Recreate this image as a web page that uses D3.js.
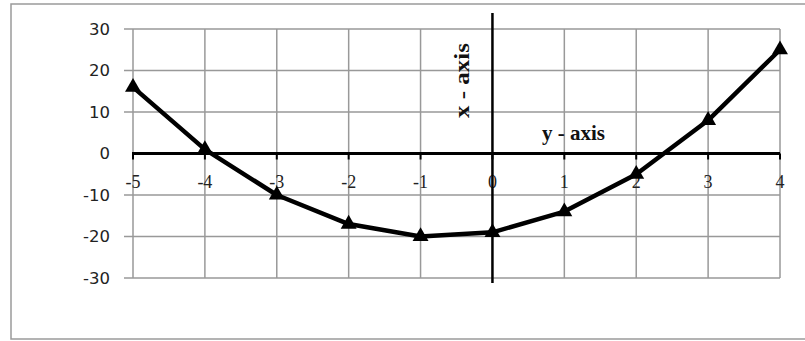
<!DOCTYPE html>
<html lang="en">
<head>
<meta charset="utf-8" />
<title>Parabola</title>
<style>
    body { margin: 0; background: #fff; }
    .ylab { font: 16.5px "DejaVu Sans", sans-serif; fill: #222; }
    .xlab { font: 18px "Liberation Serif", serif; fill: #222; }
    .axlab { font: bold 21px "Liberation Serif", serif; fill: #111; }
</style>
</head>
<body>
<div id="graph"></div>
<script src="https://cdn.jsdelivr.net/npm/d3@7"></script>
<script>
    var xValues = [-5, -4, -3, -2, -1, 0, 1, 2, 3, 4];
    var yValues = [16, 1, -10, -17, -20, -19, -14, -5, 8, 25];
    var yTicks = [30, 20, 10, 0, -10, -20, -30];
    var xTicks = [-5, -4, -3, -2, -1, 0, 1, 2, 3, 4];

    var data = xValues.map(function (d, i) { return { x: d, y: yValues[i] }; });

    var width = 805, height = 341;

    var x = d3.scaleLinear().domain([-5, 4]).range([133, 780]);
    var y = d3.scaleLinear().domain([-30, 30]).range([278, 29]);

    var svg = d3.select("#graph").append("svg")
        .attr("width", width)
        .attr("height", height);

    // outer frame
    svg.append("rect")
        .attr("x", 11).attr("y", 4)
        .attr("width", 820).attr("height", 335)
        .attr("fill", "none")
        .attr("stroke", "#9a9a9a")
        .attr("stroke-width", 1.5);

    // horizontal grid (with small tick stubs on the left)
    svg.append("g").selectAll("line")
        .data(yTicks.filter(function (d) { return d !== 0; }))
        .enter().append("line")
        .attr("x1", x(-5) - 9).attr("x2", x(4))
        .attr("y1", function (d) { return y(d); })
        .attr("y2", function (d) { return y(d); })
        .attr("stroke", "#999")
        .attr("stroke-width", 1.5);

    // vertical grid
    svg.append("g").selectAll("line")
        .data(xTicks.filter(function (d) { return d !== 0; }))
        .enter().append("line")
        .attr("x1", function (d) { return x(d); })
        .attr("x2", function (d) { return x(d); })
        .attr("y1", y(30)).attr("y2", y(-30))
        .attr("stroke", "#999")
        .attr("stroke-width", 1.5);

    // y tick labels
    svg.append("g").selectAll("text")
        .data(yTicks)
        .enter().append("text")
        .attr("class", "ylab")
        .attr("x", 110)
        .attr("y", function (d) { return y(d); })
        .attr("dy", "0.36em")
        .attr("text-anchor", "end")
        .text(function (d) { return d; });

    // zero line with ticks
    svg.append("line")
        .attr("x1", x(-5) - 1).attr("x2", x(4))
        .attr("y1", y(0)).attr("y2", y(0))
        .attr("stroke", "#000")
        .attr("stroke-width", 3);

    svg.append("g").selectAll("line")
        .data(xTicks)
        .enter().append("line")
        .attr("x1", function (d) { return x(d); })
        .attr("x2", function (d) { return x(d); })
        .attr("y1", y(0)).attr("y2", y(0) + 6)
        .attr("stroke", "#000")
        .attr("stroke-width", 2);

    // x tick labels
    svg.append("g").selectAll("text")
        .data(xTicks)
        .enter().append("text")
        .attr("class", "xlab")
        .attr("x", function (d) { return x(d); })
        .attr("y", 188)
        .attr("text-anchor", "middle")
        .text(function (d) { return d; });

    // hand drawn vertical axis through 0
    svg.append("line")
        .attr("x1", x(0)).attr("x2", x(0))
        .attr("y1", 13).attr("y2", 283)
        .attr("stroke", "#000")
        .attr("stroke-width", 2.5);

    svg.append("text")
        .attr("class", "axlab")
        .attr("transform", "translate(469,80.5) rotate(-90)")
        .attr("text-anchor", "middle")
        .attr("textLength", 75)
        .attr("lengthAdjust", "spacingAndGlyphs")
        .text("x - axis");

    svg.append("text")
        .attr("class", "axlab")
        .attr("x", 542).attr("y", 140)
        .text("y - axis");

    // series
    var line = d3.line()
        .x(function (d) { return x(d.x); })
        .y(function (d) { return y(d.y); });

    svg.append("path")
        .datum(data)
        .attr("d", line)
        .attr("fill", "none")
        .attr("stroke", "#000")
        .attr("stroke-width", 4.5)
        .attr("stroke-linejoin", "round");

    svg.append("g").selectAll("path")
        .data(data)
        .enter().append("path")
        .attr("transform", function (d) { return "translate(" + x(d.x) + "," + y(d.y) + ")"; })
        .attr("d", d3.symbol().type(d3.symbolTriangle).size(110))
        .attr("fill", "#000");
</script>
</body>
</html>
